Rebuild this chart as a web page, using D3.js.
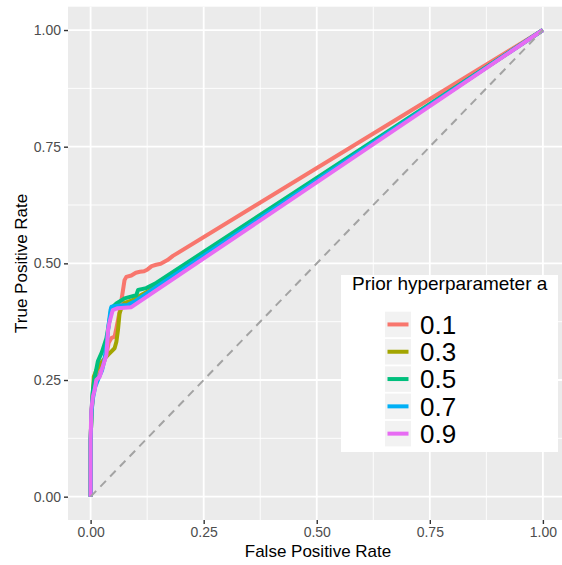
<!DOCTYPE html>
<html>
<head>
<meta charset="utf-8">
<script src="https://cdn.jsdelivr.net/npm/d3@7"></script>
<style>
  body { margin: 0; background: #fff; }
  text { font-family: "Liberation Sans", Arial, sans-serif; }
</style>
</head>
<body>
<div id="chart"></div>
<script>
// ===== DATA =====
const seriesNames = ["0.1", "0.3", "0.5", "0.7", "0.9"];
const seriesColors = ["#F8766D", "#A3A500", "#00BF7D", "#00B0F6", "#E76BF3"];
const tickValues = [0, 0.25, 0.5, 0.75, 1];

// [false positive rate, true positive rate]
const roc01 = [[0,0],[0,0.12],[0.002,0.18],[0.005,0.215],[0.009,0.24],[0.016,0.262],[0.022,0.275],
  [0.03,0.29],[0.036,0.31],[0.04,0.33],[0.046,0.34],[0.053,0.343],[0.057,0.361],[0.064,0.396],
  [0.071,0.439],[0.075,0.464],[0.079,0.471],[0.09,0.474],[0.1,0.48],[0.109,0.482],[0.118,0.483],
  [0.126,0.487],[0.135,0.494],[0.145,0.497],[0.155,0.499],[0.17,0.507],[0.182,0.516],[1,1]];
const roc03 = [[0,0],[0,0.12],[0.002,0.18],[0.005,0.22],[0.007,0.257],[0.0126,0.271],[0.02,0.283],
  [0.03,0.295],[0.0385,0.304],[0.053,0.318],[0.057,0.332],[0.0605,0.357],[0.064,0.393],[0.068,0.404],
  [0.075,0.415],[0.09,0.42],[0.108,0.43],[0.13,0.442],[1,1]];
const roc05 = [[0,0],[0,0.12],[0.002,0.18],[0.004,0.22],[0.008,0.25],[0.012,0.27],[0.016,0.29],
  [0.025,0.31],[0.035,0.34],[0.042,0.379],[0.046,0.404],[0.057,0.414],[0.075,0.425],[0.101,0.432],
  [0.105,0.443],[0.123,0.447],[0.145,0.458],[1,1]];
const roc07 = [[0,0],[0,0.12],[0.002,0.18],[0.005,0.21],[0.01,0.235],[0.018,0.255],[0.025,0.27],
  [0.03,0.29],[0.036,0.33],[0.04,0.37],[0.044,0.4],[0.046,0.407],[0.06,0.409],[0.0825,0.411],
  [0.1,0.42],[1,1]];
const roc09 = [[0,0],[0,0.12],[0.0015,0.186],[0.005,0.214],[0.009,0.229],[0.0126,0.25],[0.02,0.257],
  [0.027,0.279],[0.035,0.304],[0.0385,0.357],[0.042,0.375],[0.049,0.4],[0.06,0.404],[0.09,0.406],[1,1]];
const rocData = [roc01, roc03, roc05, roc07, roc09];

// ===== SIZE =====
const width = 562;
const height = 565;
const panel = { left: 68, top: 6.7, right: 565.5, bottom: 520 };

const svg = d3.select("#chart")
  .append("svg")
  .attr("width", width)
  .attr("height", height);

const x = d3.scaleLinear().domain([-0.05, 1.05]).range([panel.left, panel.right]);
const y = d3.scaleLinear().domain([-0.05, 1.05]).range([panel.bottom, panel.top]);

// panel background
svg.append("rect")
  .attr("x", panel.left)
  .attr("y", panel.top)
  .attr("width", panel.right - panel.left)
  .attr("height", panel.bottom - panel.top)
  .attr("fill", "#EBEBEB");

// grid
const minor = d3.range(0.125, 1, 0.25);
const grid = svg.append("g");
grid.selectAll(".minx").data(minor).join("line")
  .attr("x1", d => x(d)).attr("x2", d => x(d))
  .attr("y1", panel.top).attr("y2", panel.bottom)
  .attr("stroke", "#fff").attr("stroke-width", 0.9);
grid.selectAll(".miny").data(minor).join("line")
  .attr("y1", d => y(d)).attr("y2", d => y(d))
  .attr("x1", panel.left).attr("x2", panel.right)
  .attr("stroke", "#fff").attr("stroke-width", 0.9);
grid.selectAll(".majx").data(tickValues).join("line")
  .attr("x1", d => x(d)).attr("x2", d => x(d))
  .attr("y1", panel.top).attr("y2", panel.bottom)
  .attr("stroke", "#fff").attr("stroke-width", 1.8);
grid.selectAll(".majy").data(tickValues).join("line")
  .attr("y1", d => y(d)).attr("y2", d => y(d))
  .attr("x1", panel.left).attr("x2", panel.right)
  .attr("stroke", "#fff").attr("stroke-width", 1.8);

// curves
const line = d3.line().x(d => x(d[0])).y(d => y(d[1]));

svg.append("g")
  .selectAll("path")
  .data(rocData)
  .join("path")
  .attr("d", line)
  .attr("fill", "none")
  .attr("stroke", (d, i) => seriesColors[i])
  .attr("stroke-width", 4)
  .attr("stroke-linejoin", "round");

// chance line
svg.append("line")
  .attr("x1", x(0)).attr("y1", y(0))
  .attr("x2", x(1)).attr("y2", y(1))
  .attr("stroke", "#A3A3A3")
  .attr("stroke-width", 2)
  .attr("stroke-dasharray", "8,6");

// axes
const fmt = d3.format(".2f");
const xAxis = svg.append("g")
  .attr("transform", `translate(0,${panel.bottom})`)
  .call(d3.axisBottom(x).tickValues(tickValues).tickFormat(fmt).tickSize(4).tickPadding(3));
const yAxis = svg.append("g")
  .attr("transform", `translate(${panel.left},0)`)
  .call(d3.axisLeft(y).tickValues(tickValues).tickFormat(fmt).tickSize(4).tickPadding(3));

[xAxis, yAxis].forEach(a => {
  a.select(".domain").remove();
  a.selectAll(".tick line").attr("stroke", "#333").attr("stroke-width", 1.4);
  a.selectAll(".tick text")
    .attr("fill", "#4D4D4D")
    .style("font-size", "14px")
    .style("font-family", "'Liberation Sans', Arial, sans-serif");
});

svg.append("text")
  .attr("x", (panel.left + 562) / 2 + 3)
  .attr("y", 557)
  .attr("text-anchor", "middle")
  .style("font-size", "17px")
  .text("False Positive Rate");

svg.append("text")
  .attr("transform", `translate(27,${(panel.top + panel.bottom) / 2}) rotate(-90)`)
  .attr("text-anchor", "middle")
  .style("font-size", "17px")
  .text("True Positive Rate");

// legend
const legend = svg.append("g").attr("transform", "translate(341,275)");
legend.append("rect")
  .attr("width", 217).attr("height", 177)
  .attr("fill", "#fff");
legend.append("text")
  .attr("x", 11).attr("y", 15)
  .style("font-size", "19px")
  .text("Prior hyperparameter a");

const keys = legend.selectAll("g.key")
  .data(seriesNames)
  .join("g")
  .attr("class", "key")
  .attr("transform", (d, i) => `translate(44,${36.7 + i * 27.3})`);

keys.append("rect")
  .attr("width", 26).attr("height", 25.5)
  .attr("fill", "#F2F2F2");
keys.append("line")
  .attr("x1", 2.5).attr("x2", 23.5)
  .attr("y1", 12.75).attr("y2", 12.75)
  .attr("stroke", (d, i) => seriesColors[i])
  .attr("stroke-width", 4);
keys.append("text")
  .attr("x", 35).attr("y", 22)
  .style("font-size", "26px")
  .text(d => d);
</script>
</body>
</html>
